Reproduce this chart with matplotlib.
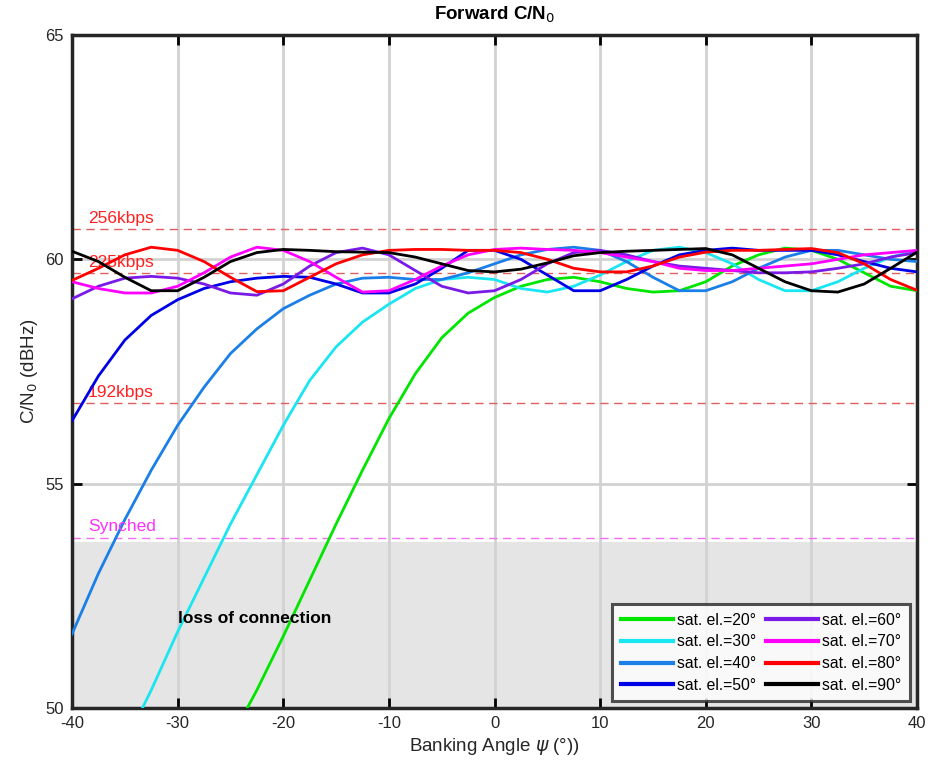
import numpy as np
from matplotlib import pyplot as plt

plt.rcParams['font.family'] = ['Liberation Sans', 'DejaVu Sans']
plt.rcParams['axes.unicode_minus'] = False

# banking angle grid (deg)
psi = [-40, -37.5, -35, -32.5, -30, -27.5, -25, -22.5, -20, -17.5, -15, -12.5, -10, -7.5, -5, -2.5,
       0, 2.5, 5, 7.5, 10, 12.5, 15, 17.5, 20, 22.5, 25, 27.5, 30, 32.5, 35, 37.5, 40]

nan = np.nan
# C/N0 (dBHz) per satellite elevation
cn0_20 = [nan, nan, nan, nan, nan, nan, 49.3, 50.4, 51.6, 52.85, 54.1, 55.3, 56.45, 57.45, 58.25, 58.8,
          59.15, 59.4, 59.55, 59.6, 59.5, 59.35, 59.27, 59.3, 59.5, 59.85, 60.1, 60.25, 60.2, 60.0, 59.7, 59.4, 59.3]
cn0_30 = [nan, nan, 49.2, 50.4, 51.7, 52.9, 54.1, 55.2, 56.3, 57.3, 58.05, 58.6, 59.0, 59.35, 59.55, 59.6,
          59.55, 59.35, 59.27, 59.4, 59.65, 59.95, 60.2, 60.27, 60.15, 59.9, 59.55, 59.3, 59.3, 59.5, 59.8, 60.05, 60.2]
cn0_40 = [51.65, 53.0, 54.2, 55.3, 56.3, 57.15, 57.9, 58.45, 58.9, 59.2, 59.45, 59.58, 59.6, 59.55, 59.55, 59.7,
          59.9, 60.1, 60.22, 60.27, 60.2, 59.95, 59.6, 59.3, 59.3, 59.5, 59.8, 60.05, 60.2, 60.2, 60.1, 60.0, 59.95]
cn0_50 = [56.4, 57.4, 58.2, 58.75, 59.1, 59.35, 59.5, 59.58, 59.62, 59.6, 59.45, 59.25, 59.25, 59.45, 59.8, 60.2,
          60.2, 60.0, 59.65, 59.3, 59.3, 59.55, 59.85, 60.1, 60.2, 60.25, 60.2, 60.2, 60.2, 60.1, 59.95, 59.8, 59.72]
cn0_60 = [59.12, 59.4, 59.58, 59.62, 59.58, 59.45, 59.25, 59.2, 59.45, 59.85, 60.15, 60.25, 60.1, 59.75, 59.4, 59.25,
          59.3, 59.55, 59.9, 60.15, 60.2, 60.1, 59.95, 59.85, 59.8, 59.75, 59.7, 59.7, 59.72, 59.8, 59.9, 60.05, 60.15]
cn0_70 = [59.5, 59.35, 59.25, 59.25, 59.4, 59.7, 60.05, 60.27, 60.2, 59.95, 59.6, 59.27, 59.3, 59.55, 59.85, 60.1,
          60.22, 60.25, 60.22, 60.2, 60.15, 60.05, 59.95, 59.8, 59.75, 59.75, 59.8, 59.85, 59.9, 60.0, 60.1, 60.15, 60.2]
cn0_80 = [59.53, 59.8, 60.1, 60.27, 60.2, 59.95, 59.6, 59.28, 59.3, 59.6, 59.9, 60.1, 60.2, 60.22, 60.22, 60.2,
          60.2, 60.15, 60.0, 59.8, 59.72, 59.72, 59.85, 60.05, 60.16, 60.2, 60.2, 60.22, 60.24, 60.15, 59.9, 59.55, 59.31]
cn0_90 = [60.18, 59.95, 59.6, 59.3, 59.3, 59.6, 59.95, 60.15, 60.22, 60.2, 60.17, 60.16, 60.15, 60.05, 59.9, 59.75,
          59.72, 59.78, 59.92, 60.08, 60.15, 60.18, 60.2, 60.22, 60.24, 60.1, 59.8, 59.5, 59.3, 59.27, 59.45, 59.8, 60.16]

elevations = [20, 30, 40, 50, 60, 70, 80, 90]
colors = ['#00E600', '#1AE6F2', '#1A7FE6', '#0000E6', '#7A1AE6', '#FF00FF', '#FF0000', '#000000']

# thresholds (dBHz)
rate_names = ['256kbps', '225kbps', '192kbps']
rate_levels = [60.67, 59.69, 56.79]
synch_level = 53.8
loss_level = 53.7

fig = plt.figure(figsize=(9.33, 7.67), dpi=100)
ax = fig.add_axes([0.0772, 0.0769, 0.9057, 0.8775])

ax.fill_between([-40, 40], 50, loss_level, color='#e5e5e5', zorder=0.5, lw=0)

series = [cn0_20, cn0_30, cn0_40, cn0_50, cn0_60, cn0_70, cn0_80, cn0_90]
for el, ys, c in zip(elevations, series, colors):
    ax.plot(psi, ys, color=c, lw=2.0, label='sat. el.=%d°' % el, zorder=3)

for name, lvl in zip(rate_names, rate_levels):
    ax.axhline(lvl, color='#e06060', lw=1.0, ls=(0, (6, 4)), zorder=2)
    ax.text(-38.5, lvl + 0.08, name, color='#ff2020', fontsize=12.5, va='bottom', ha='left', zorder=2)
ax.axhline(synch_level, color='#f070f0', lw=1.0, ls=(0, (6, 4)), zorder=2)
ax.text(-38.5, synch_level + 0.08, 'Synched', color='#ff30ff', fontsize=12.5, va='bottom', ha='left')
ax.text(-30.0, 52.0, 'loss of connection', fontsize=12.5, fontweight='bold', va='center', ha='left')

ax.set_xlim(-40, 40)
ax.set_ylim(50, 65)
ax.set_xticks(np.arange(-40, 41, 10))
ax.set_yticks([50, 55, 60, 65])
ax.grid(True, color='#d2d2d2', lw=2.0)
ax.tick_params(direction='in', length=7, width=2, top=True, right=True, labelsize=12, colors='black',
               labelcolor='#262626', pad=6)
for s in ax.spines.values():
    s.set_linewidth(2.5)
    s.set_color('#262626')

ax.set_title('Forward C/N$_0$', fontsize=13.5, fontweight='bold', pad=11)
ax.set_xlabel('Banking Angle $\\psi$ (°))', fontsize=13.5, color='#262626', labelpad=3)
ax.set_ylabel('C/N$_0$ (dBHz)', fontsize=13.5, color='#262626')

leg = ax.legend(loc='lower right', ncol=2, fontsize=11.3, frameon=True, fancybox=False,
                handlelength=3.3, handletextpad=0.3, columnspacing=0.6, labelspacing=0.42,
                borderpad=0.55, borderaxespad=0, bbox_to_anchor=(0.992, 0.01))
leg.get_frame().set_edgecolor('#262626')
leg.get_frame().set_linewidth(2.2)
for h in leg.get_lines():
    h.set_linewidth(3)

fig.savefig('out.png', dpi=100)
